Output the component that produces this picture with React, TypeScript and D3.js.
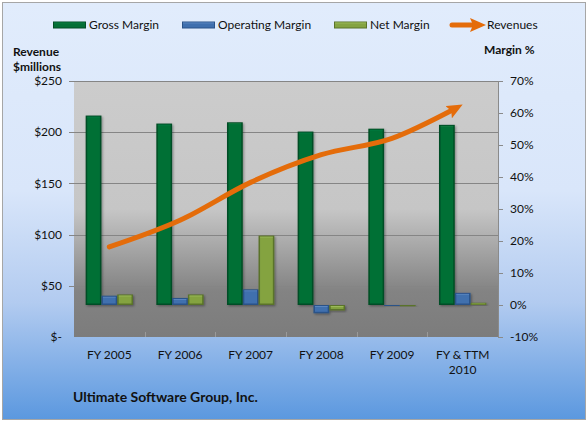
import React, { useEffect, useRef } from "react";
import * as d3 from "d3";

const categories = ["FY 2005", "FY 2006", "FY 2007", "FY 2008", "FY 2009", "FY & TTM 2010"];
const categoryLines = [["FY 2005"], ["FY 2006"], ["FY 2007"], ["FY 2008"], ["FY 2009"], ["FY & TTM", "2010"]];
const grossMargin = [59.2, 56.7, 57.1, 54.2, 55.1, 56.3];
const operatingMargin = [2.9, 2.2, 4.9, -2.6, -0.15, 3.8];
const netMargin = [3.3, 3.3, 21.7, -1.7, -0.4, 0.7];
const revenues = [88, 114, 151, 178, 194, 227];
const revenueTicks = [0, 50, 100, 150, 200, 250];
const revenueTickLabels = ["$-", "$50", "$100", "$150", "$200", "$250"];
const marginTicks = [-10, 0, 10, 20, 30, 40, 50, 60, 70];
const seriesNames = ["Gross Margin", "Operating Margin", "Net Margin"];

const W = 588, H = 422;
const plot = { left: 74, right: 498, top: 81, bottom: 337 };
const FONT = "Lato, 'Open Sans', sans-serif";

const barStyles = [
  { outer: "#024d25", inner: "#046f36", hi: "#0a7d40" },
  { outer: "#2a5288", inner: "#3f6fae", hi: "#5a86c0" },
  { outer: "#5a7329", inner: "#84a341", hi: "#9ab95a" },
];

export default function App() {
  const ref = useRef<SVGSVGElement | null>(null);

  useEffect(() => {
    const svg = d3.select(ref.current);
    svg.selectAll("*").remove();

    const defs = svg.append("defs");
    const bg = defs.append("linearGradient").attr("id", "bgGrad").attr("x1", 0).attr("y1", 0).attr("x2", 0).attr("y2", 1);
    [[0, "#e1ecfc"], [0.45, "#d9e6fa"], [0.72, "#b2cbf0"], [1, "#5b98df"]].forEach(([o, c]) =>
      bg.append("stop").attr("offset", o as number).attr("stop-color", c as string));
    const pg = defs.append("linearGradient").attr("id", "plotGrad").attr("x1", 0).attr("y1", 0).attr("x2", 0).attr("y2", 1);
    [[0, "#cccccc"], [0.5, "#c6c6c6"], [0.82, "#838383"], [1, "#7c7c7c"]].forEach(([o, c]) =>
      pg.append("stop").attr("offset", o as number).attr("stop-color", c as string));
    const sh = defs.append("filter").attr("id", "shadow").attr("x", "-20%").attr("y", "-20%").attr("width", "160%").attr("height", "160%");
    sh.append("feDropShadow").attr("dx", 1.2).attr("dy", 1.2).attr("stdDeviation", 0.8).attr("flood-color", "#000").attr("flood-opacity", 0.35);
    const mk = defs.append("marker").attr("id", "arrow").attr("viewBox", "0 0 16 14")
      .attr("refX", 16).attr("refY", 7).attr("markerWidth", 16).attr("markerHeight", 14)
      .attr("markerUnits", "userSpaceOnUse").attr("orient", "auto");
    mk.append("path").attr("d", "M0,0 L16,7 L0,14 L3,7 Z").attr("fill", "#e46c0a");

    // outer background
    svg.append("rect").attr("x", 0).attr("y", 0).attr("width", W).attr("height", H).attr("fill", "#ffffff");
    svg.append("rect").attr("x", 2.5).attr("y", 2.5).attr("width", W - 5).attr("height", H - 5)
      .attr("fill", "url(#bgGrad)").attr("stroke", "#a6a6a6").attr("stroke-width", 1);

    // plot area
    svg.append("rect").attr("x", plot.left).attr("y", plot.top)
      .attr("width", plot.right - plot.left).attr("height", plot.bottom - plot.top)
      .attr("fill", "url(#plotGrad)");

    const yRev = d3.scaleLinear().domain([0, 250]).range([plot.bottom, plot.top]);
    const yPct = d3.scaleLinear().domain([-10, 70]).range([plot.bottom, plot.top]);
    const x0 = d3.scaleBand<string>().domain(categories).range([plot.left, plot.right]).padding(0);
    const bw = x0.bandwidth();
    const x1 = d3.scaleBand<string>().domain(seriesNames).range([bw * 0.165, bw * 0.835]).padding(0);

    // gridlines
    svg.append("g").selectAll("line").data(revenueTicks.filter(t => t > 0)).join("line")
      .attr("x1", plot.left - 5).attr("x2", plot.right)
      .attr("y1", d => Math.round(yRev(d)) + 0.5).attr("y2", d => Math.round(yRev(d)) + 0.5)
      .attr("stroke", "#858585").attr("stroke-width", 1);

    // category ticks at bottom
    svg.append("g").selectAll("line").data(d3.range(1, categories.length)).join("line")
      .attr("x1", i => Math.round(plot.left + i * bw) + 0.5).attr("x2", i => Math.round(plot.left + i * bw) + 0.5)
      .attr("y1", plot.bottom - 5).attr("y2", plot.bottom)
      .attr("stroke", "#9a9a9a").attr("stroke-width", 1);

    // right axis
    svg.append("line").attr("x1", plot.right + 0.5).attr("x2", plot.right + 0.5)
      .attr("y1", plot.top).attr("y2", plot.bottom).attr("stroke", "#8a8a8a");
    svg.append("g").selectAll("line").data(marginTicks).join("line")
      .attr("x1", plot.right).attr("x2", plot.right + 5)
      .attr("y1", d => Math.round(yPct(d)) + 0.5).attr("y2", d => Math.round(yPct(d)) + 0.5)
      .attr("stroke", "#8a8a8a");
    svg.append("g").selectAll("text").data(marginTicks).join("text")
      .attr("x", 510).attr("y", d => yPct(d)).attr("dy", "0.35em")
      .attr("font-family", FONT).attr("font-size", 12).attr("fill", "#111")
      .text(d => `${d}%`);

    // left axis labels
    svg.append("g").selectAll("text").data(revenueTicks).join("text")
      .attr("x", 62).attr("y", d => yRev(d)).attr("dy", "0.35em").attr("text-anchor", "end")
      .attr("font-family", FONT).attr("font-size", 12).attr("fill", "#111")
      .text((d, i) => revenueTickLabels[i]);

    // bars
    const seriesData = [grossMargin, operatingMargin, netMargin];
    const barsG = svg.append("g");
    seriesData.forEach((vals, s) => {
      const st = barStyles[s];
      vals.forEach((v, i) => {
        const bx = (x0(categories[i]) as number) + (x1(seriesNames[s]) as number);
        const w = x1.bandwidth();
        const y0 = yPct(0);
        const yv = yPct(v);
        const top = Math.min(y0, yv);
        const h = Math.max(Math.abs(y0 - yv), 1);
        const g = barsG.append("g").attr("filter", "url(#shadow)");
        g.append("rect").attr("x", bx).attr("y", top).attr("width", w).attr("height", h).attr("fill", st.outer);
        if (h > 4) {
          g.append("rect").attr("x", bx + 1.5).attr("y", top + 1.5).attr("width", w - 3).attr("height", h - 3).attr("fill", st.inner);
          g.append("rect").attr("x", bx + 1.5).attr("y", top + 1).attr("width", w - 3).attr("height", 1).attr("fill", st.hi);
        } else if (h > 1.5) {
          g.append("rect").attr("x", bx + 1).attr("y", top + 0.8).attr("width", w - 2).attr("height", h - 1.6).attr("fill", st.hi);
        }
      });
    });

    // revenue line
    const line = d3.line<number>()
      .x((d, i) => (x0(categories[i]) as number) + bw / 2)
      .y(d => yRev(d))
      .curve(d3.curveCardinal.tension(0));
    const path = svg.append("path").attr("d", line(revenues) as string)
      .attr("fill", "none").attr("stroke", "#e46c0a").attr("stroke-width", 5)
      .attr("stroke-linecap", "round").attr("marker-end", "url(#arrow)");
    const L = (path.node() as SVGPathElement).getTotalLength();
    path.attr("stroke-dasharray", `${L - 9} ${L + 20}`);

    // legend
    const legY = 25;
    const legendItems = [
      { x: 53, label: "Gross Margin", s: 0 },
      { x: 182, label: "Operating Margin", s: 1 },
      { x: 334, label: "Net Margin", s: 2 },
    ];
    legendItems.forEach(it => {
      const st = barStyles[it.s];
      svg.append("rect").attr("x", it.x).attr("y", legY - 3.5).attr("width", 33).attr("height", 7).attr("fill", st.outer);
      svg.append("rect").attr("x", it.x + 1).attr("y", legY - 2.5).attr("width", 31).attr("height", 5).attr("fill", st.inner);
      svg.append("rect").attr("x", it.x + 1).attr("y", legY - 2.5).attr("width", 31).attr("height", 1).attr("fill", st.hi);
      svg.append("text").attr("x", it.x + 36).attr("y", legY).attr("dy", "0.35em")
        .attr("font-family", FONT).attr("font-size", 12).attr("fill", "#111").text(it.label);
    });
    svg.append("line").attr("x1", 452).attr("x2", 478).attr("y1", legY).attr("y2", legY)
      .attr("stroke", "#e46c0a").attr("stroke-width", 5).attr("stroke-linecap", "round");
    svg.append("path").attr("d", `M470,${legY - 7} L486,${legY} L470,${legY + 7} L473,${legY} Z`).attr("fill", "#e46c0a");
    svg.append("text").attr("x", 487).attr("y", legY).attr("dy", "0.35em")
      .attr("font-family", FONT).attr("font-size", 12).attr("fill", "#111").text("Revenues");

    // axis titles
    svg.append("text").attr("x", 13).attr("y", 52).attr("dy", "0.35em")
      .attr("font-family", FONT).attr("font-size", 12).attr("font-weight", "bold").attr("fill", "#111").text("Revenue");
    svg.append("text").attr("x", 13).attr("y", 67).attr("dy", "0.35em")
      .attr("font-family", FONT).attr("font-size", 12).attr("font-weight", "bold").attr("fill", "#111").text("$millions");
    svg.append("text").attr("x", 484).attr("y", 50).attr("dy", "0.35em")
      .attr("font-family", FONT).attr("font-size", 12).attr("font-weight", "bold").attr("fill", "#111").text("Margin %");

    // category labels
    categoryLines.forEach((lines, i) => {
      const cx = (x0(categories[i]) as number) + bw / 2;
      lines.forEach((ln, j) => {
        svg.append("text").attr("x", cx).attr("y", 355 + j * 15).attr("dy", "0.35em").attr("text-anchor", "middle")
          .attr("font-family", FONT).attr("font-size", 12).attr("fill", "#111").text(ln);
      });
    });

    // title
    svg.append("text").attr("x", 73).attr("y", 397).attr("dy", "0.35em")
      .attr("font-family", FONT).attr("font-size", 14).attr("font-weight", "bold").attr("fill", "#111")
      .text("Ultimate Software Group, Inc.");
  }, []);

  return (
    <svg ref={ref} width={W} height={H} style={{ position: "absolute", left: 0, top: 0, display: "block" }} />
  );
}
